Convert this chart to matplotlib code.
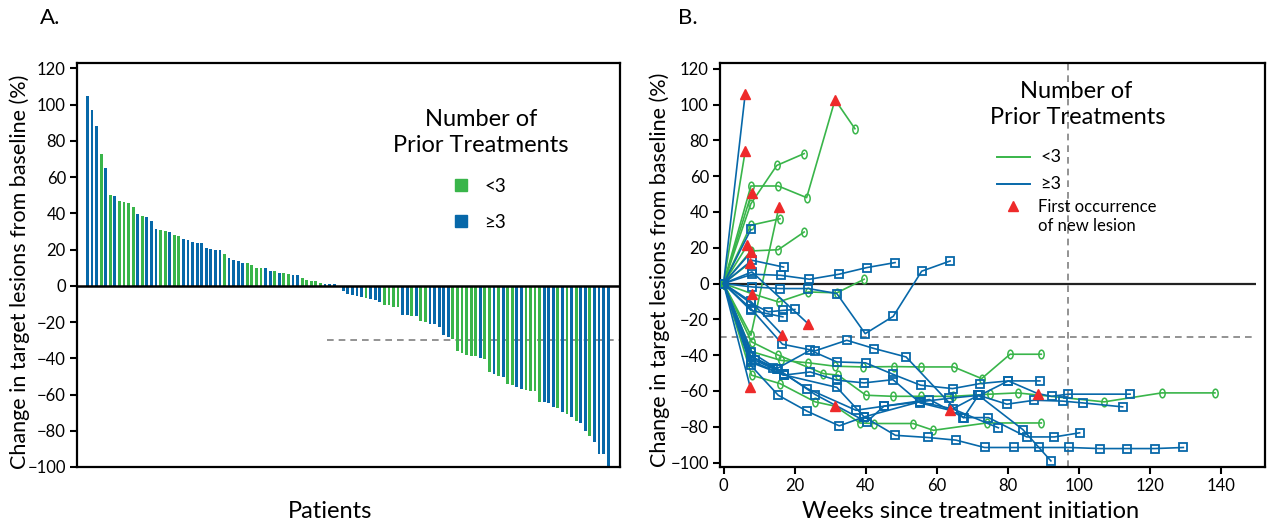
import matplotlib
matplotlib.use('Agg')
import matplotlib.pyplot as plt
from matplotlib.path import Path
from matplotlib.transforms import Affine2D
import numpy as np

# ---------------- data ----------------
# Panel A: waterfall (best change in target lesions, %), ordered as drawn
bar_change = [105, 97, 88, 73, 65, 50, 49.5, 47, 46, 45.7, 43.5, 39.6, 38.7, 38, 35.7,
              31.3, 30.8, 30.2, 29.6, 28.2, 27.4, 25.8, 25.2, 24.1, 23.6, 23.6, 20.8, 20.3,
              19.7, 19.7, 17.5, 15.3, 14.2, 13.6, 12.5, 12.5, 11.4, 9.8, 9.8, 9.8, 8.1, 8.1,
              7, 7, 6.4, 5.9, 5.9, 4.2, 3.1, 2.6, 2.6, 1.5, 0.9, 0.9, 0.9, 0,
              -2.8, -4.4, -5.0, -5.5, -6.1, -6.6, -7.2, -7.7, -8.8, -10.5, -10.5, -11.6, -11.6,
              -16, -16, -16.6, -16.6, -19.3, -19.9, -21, -21, -22.7, -27, -28.2, -29.3, -35.9,
              -37, -38.1, -38.7, -38.7, -39.8, -40.3, -47.5, -48.6, -49.7, -50.3, -54.1, -54.7,
              -55.8, -56.9, -57.5, -58, -58, -64.1, -64.1, -64.6, -66.9, -67.4, -69.6, -70.7,
              -72.4, -74.6, -75.7, -80.1, -82.9, -86.2, -92.8, -92.8, -100]
bar_group = ['>=3', '>=3', '>=3', '<3', '>=3', '<3', '>=3', '<3', '<3', '<3', '<3', '>=3', '<3',
             '>=3', '>=3', '>=3', '<3', '<3', '>=3', '<3', '<3', '>=3', '>=3', '>=3', '>=3', '>=3',
             '>=3', '>=3', '>=3', '>=3', '<3', '>=3', '>=3', '>=3', '>=3', '<3', '<3', '<3', '<3',
             '>=3', '>=3', '<3', '>=3', '<3', '<3', '>=3', '>=3', '<3', '<3', '<3', '<3', '<3',
             '>=3', '>=3', '>=3', '>=3',
             '>=3', '>=3', '>=3', '>=3', '>=3', '<3', '>=3', '>=3', '>=3', '<3', '<3', '<3', '<3',
             '>=3', '>=3', '<3', '>=3', '<3', '<3', '>=3', '>=3', '>=3', '>=3', '>=3', '<3', '<3',
             '<3', '<3', '<3', '<3', '>=3', '<3', '<3', '>=3', '<3', '>=3', '<3', '<3',
             '>=3', '>=3', '<3', '<3', '<3', '<3', '>=3', '>=3', '>=3', '<3', '>=3', '<3',
             '>=3', '<3', '>=3', '>=3', '<3', '>=3', '>=3', '>=3', '>=3']
ytick_vals = [-100, -80, -60, -40, -20, 0, 20, 40, 60, 80, 100, 120]
xtick_weeks = [0, 20, 40, 60, 80, 100, 120, 140]

# Panel B: spider plot, one trajectory per patient (weeks, % change)
traj_group = ['<3', '<3', '<3', '<3', '<3', '<3', '<3', '<3', '<3', '<3', '<3', '<3', '<3',
              '>=3', '>=3', '>=3', '>=3', '>=3', '>=3', '>=3', '>=3', '>=3', '>=3', '>=3',
              '>=3', '>=3', '>=3', '>=3', '>=3', '>=3', '>=3', '>=3']
traj_weeks = [
    [0, 6.1],
    [0, 7.7, 15.4, 23.4, 31.4, 37.0],
    [0, 7.7, 15.0, 22.7],
    [0, 7.9],
    [0, 7.7, 15.6],
    [0, 7.7, 15.9],
    [0, 7.7, 15.4, 22.7],
    [0, 6.7],
    [0, 7.5],
    [0, 7.9, 15.5, 23.9, 31.9, 39.6],
    [0, 7.9, 16.1, 23.9, 31.4, 39.4, 48.1, 55.6, 64.8, 72.7, 80.7, 89.5],
    [0, 7.9, 15.4, 28.1, 32.3, 40.1, 47.6, 55.5, 64.7, 75.1, 82.8, 107.2, 123.4, 138.4],
    [0, 7.9, 15.9, 25.8, 31.4, 38.4, 42.4, 53.4, 59.1, 74.1, 89.5],
    [0, 6.1],
    [0, 7.7],
    [0, 8.0, 16.9],
    [0, 8.1, 16.1, 24.2, 32.5, 40.3, 48.3],
    [0, 8.1, 15.9, 23.9, 31.9, 39.9, 47.8, 55.8, 63.8],
    [0, 8.0, 23.9],
    [0, 7.7, 12.6, 16.7, 20.1],
    [0, 7.7, 16.7],
    [0, 7.75],
    [0, 7.7, 16.6],
    [0, 7.7, 16.6, 25.8, 34.7, 42.4, 51.4, 67.5, 74.6, 85.4, 93.2, 100.3],
    [0, 7.6, 15.0, 24.4, 31.9, 40.0, 47.7, 55.5, 64.5, 72.2, 80.2, 89.1],
    [0, 7.6, 16.9, 24.4, 31.9, 39.6, 47.7, 55.4, 63.8, 71.8, 79.8, 87.5, 95.6, 101.2, 112.4],
    [0, 8.9, 16.9, 23.6, 37.3, 45.2, 55.2, 63.6, 72.2, 80.2, 88.5, 92.4, 97.1, 114.5],
    [0, 7.6, 15.4, 23.6, 32.6, 39.6, 48.4, 57.5, 65.5, 73.5, 81.7, 88.9, 97.4, 105.9, 113.5, 121.5, 129.5],
    [0, 7.6, 15.4, 25.8, 40.3, 45.2, 58.0, 67.6, 71.8, 84.3, 92.2],
    [0, 7.5],
    [0, 7.6, 16.9, 31.9, 39.6, 55.2, 64.5, 77.4],
    [0, 7.6, 13.9, 16.9],
]
traj_change = [
    [0, 74],
    [0, 54.5, 54.5, 48, 102.7, 86.5],
    [0, 44.6, 66, 72.6],
    [0, 50.6],
    [0, -28.9, 42.8],
    [0, 32.6, 36.2],
    [0, 18.2, 18.9, 28.8],
    [0, 21.4],
    [0, 11.7],
    [0, -5.6, -10.3, -4.7, -5.2, 2.4],
    [0, -38, -42.9, -44.3, -46.2, -46.6, -46.4, -46.6, -46.6, -53.1, -39.5, -39.5],
    [0, -32.6, -40, -50.3, -51.2, -62.4, -63, -63, -63, -61.8, -61.1, -66.1, -61.1, -61.1],
    [0, -51.2, -55.9, -66.1, -68.5, -77.9, -78.2, -78.2, -82, -77.9, -77.9],
    [0, 106],
    [0, 30.2],
    [0, 13, 9.2],
    [0, 5.2, 4.6, 2.4, 5.2, 8.9, 11.7],
    [0, -1.9, -2.8, -2.8, -5.6, -28, -18.3, 6.9, 12.6],
    [0, 6.5, -22.6],
    [0, -11, -15.8, -15, -14.5],
    [0, -15, -18.6],
    [0, 17.6],
    [0, -10, -28.9],
    [0, -14, -33.9, -37.6, -31.7, -36.3, -41, -74.9, -74.9, -85.7, -85.7, -83.4],
    [0, -38.2, -47.5, -37.3, -43.8, -44.3, -50.7, -56.8, -58.7, -55.9, -54.4, -54.4],
    [0, -42.9, -51.2, -49.4, -54, -55.5, -53.7, -66.7, -70.8, -62.4, -67.4, -65.2, -65.7, -66.7, -68.9],
    [0, -42.9, -50.3, -58.7, -70.8, -68.5, -66.1, -64.1, -62.4, -54.4, -61.5, -63, -61.8, -61.8],
    [0, -45.6, -62.4, -71.4, -79.5, -74.5, -84.8, -86, -87.5, -91.6, -91.6, -91.6, -91.6, -92.2, -92.2, -92.2, -91.6],
    [0, -40.6, -48, -62, -77.3, -68.5, -64.8, -74.9, -62.4, -81.6, -99.1],
    [0, -57.8],
    [0, -44, -51, -58, -74.5, -66.1, -70, -80.6],
    [0, -40.6, -47, -50.3],
]
lesion_weeks = [6.1, 6.1, 7.9, 15.6, 31.4, 6.7, 7.75, 7.5, 7.9, 23.9, 16.6, 7.5, 31.4, 63.8, 88.5]
lesion_change = [106, 74, 50.6, 42.8, 102.7, 21.4, 17.6, 11.7, -5.6, -22.6, -28.9, -57.8, -68.5, -70.8, -61.5]

# ---------------- style ----------------
plt.rcParams['font.family'] = ['Lato', 'DejaVu Sans']
GREEN = '#39B54A'
BLUE = '#0768A9'
RED = '#EE2A2A'
GRAY = '#808080'

W, H = 1267, 523
fig = plt.figure(figsize=(W / 100, H / 100), dpi=100)


def fx(x):
    return x / W


def fy(y):
    return 1 - y / H


def style_axes(ax):
    for s in ax.spines.values():
        s.set_linewidth(1.6)
        s.set_color('black')
    ax.tick_params(axis='both', direction='out', length=5, width=1.5, labelsize=12, pad=3)


# ---------------- panel A ----------------
axA = fig.add_axes([fx(77), fy(467), fx(620) - fx(77), fy(63) - fy(467)])
xpos = np.arange(len(bar_change))
bar_colors = [GREEN if g == '<3' else BLUE for g in bar_group]
axA.bar(xpos, bar_change, width=0.62, color=bar_colors, zorder=2)
axA.set_xlim(-2.3, len(bar_change) - 1 + 2.6)
axA.set_ylim(-100, 123)
axA.axhline(0, color='black', lw=1.8, zorder=3)
axA.hlines(-30, 52.5, len(bar_change) + 2, colors=GRAY, linestyles=(0, (4, 3)), lw=1.2, zorder=1)
axA.set_yticks(ytick_vals)
axA.set_xticks([])
style_axes(axA)

fig.text(fx(40), fy(18), 'A.', fontsize=16, va='center', ha='left')
fig.text(fx(20), fy(272), 'Change in target lesions from baseline (%)', rotation=90,
         fontsize=15.5, va='center', ha='center')
fig.text(fx(330), fy(511), 'Patients', fontsize=17, va='center', ha='center')

# legend A
fig.text(fx(481), fy(120), 'Number of', fontsize=17, ha='center', va='center')
fig.text(fx(481), fy(146), 'Prior Treatments', fontsize=17, ha='center', va='center')
axA.plot([0.707], [0.697], transform=axA.transAxes, marker='s', ms=9, color=GREEN, ls='none',
         clip_on=False)
axA.plot([0.707], [0.608], transform=axA.transAxes, marker='s', ms=9, color=BLUE, ls='none',
         clip_on=False)
fig.text(fx(484), fy(186), '<3', fontsize=13.5, ha='left', va='center')
fig.text(fx(484), fy(222), '≥3', fontsize=13.5, ha='left', va='center')

# ---------------- panel B ----------------
axB = fig.add_axes([fx(720), fy(467), fx(1265) - fx(720), fy(62.5) - fy(467)])
axB.set_xlim(-1, 152.5)
axB.set_ylim(-102.5, 123.5)
axB.hlines(0, -1, 150, colors='#222222', lw=1.6, zorder=1)
axB.hlines(-30, -1, 150, colors=GRAY, linestyles=(0, (4, 3)), lw=1.2, zorder=1)
axB.axvline(97, color=GRAY, ls=(0, (4, 3)), lw=1.2, zorder=1)

lesion_pts = set(zip(lesion_weeks, lesion_change))
ellipse = Path.unit_circle().transformed(Affine2D().scale(0.62, 1.0))
for g, wk, ch in zip(traj_group, traj_weeks, traj_change):
    keep = [i for i, p in enumerate(zip(wk, ch)) if p not in lesion_pts]
    if g == '<3':
        axB.plot(wk, ch, color=GREEN, lw=1.2, marker=ellipse, ms=6.2, mfc='none', mec=GREEN,
                 mew=1.1, markevery=keep, zorder=3)
    else:
        axB.plot(wk, ch, color=BLUE, lw=1.2, marker='s', ms=5.5, mfc='none', mec=BLUE,
                 mew=1.3, markevery=keep, zorder=4)
axB.plot(lesion_weeks, lesion_change, ls='none', marker='^', ms=7.5, color=RED, mec=RED, zorder=6)

axB.set_xticks(xtick_weeks)
axB.set_yticks(ytick_vals)
style_axes(axB)

fig.text(fx(678), fy(18), 'B.', fontsize=16, va='center', ha='left')
fig.text(fx(660), fy(270), 'Change in target lesions from baseline (%)', rotation=90,
         fontsize=15.5, va='center', ha='center')
fig.text(fx(971), fy(511), 'Weeks since treatment initiation', fontsize=17, va='center',
         ha='center')

# legend B
fig.text(fx(1076), fy(92), 'Number of', fontsize=17, ha='center', va='center')
fig.text(fx(1078), fy(118), 'Prior Treatments', fontsize=17, ha='center', va='center')
fig.add_artist(plt.Line2D([fx(997), fx(1030)], [fy(157), fy(157)], color=GREEN, lw=1.4))
fig.add_artist(plt.Line2D([fx(997), fx(1030)], [fy(184), fy(184)], color=BLUE, lw=1.4))
fig.add_artist(plt.Line2D([fx(1013)], [fy(206)], marker='^', ms=7.5, color=RED, ls='none'))
fig.text(fx(1040), fy(157), '<3', fontsize=13, ha='left', va='center')
fig.text(fx(1040), fy(184), '≥3', fontsize=13, ha='left', va='center')
fig.text(fx(1038), fy(207), 'First occurrence', fontsize=12, ha='left', va='center')
fig.text(fx(1038), fy(226), 'of new lesion', fontsize=12, ha='left', va='center')

fig.savefig('out.png', dpi=100)
